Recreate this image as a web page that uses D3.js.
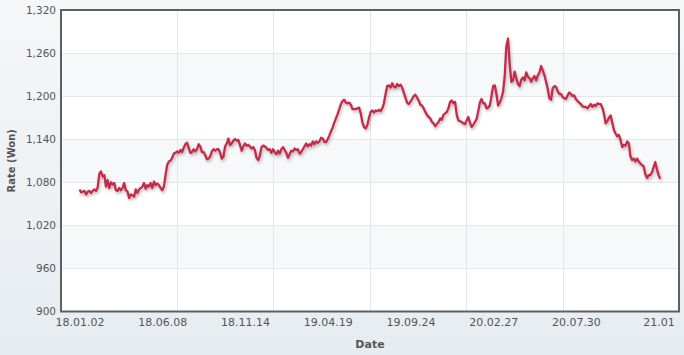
<!DOCTYPE html>
<html>
<head>
<meta charset="utf-8">
<script src="https://cdn.jsdelivr.net/npm/d3@7"></script>
<style>
  html, body { margin: 0; padding: 0; }
  body { width: 684px; height: 355px; overflow: hidden; }
  text { font-family: "DejaVu Sans", Verdana, sans-serif; }
</style>
</head>
<body>
<svg id="chart" width="684" height="355"></svg>
<script>
// ---- data ----
const xTickLabels = ["18.01.02","18.06.08","18.11.14","19.04.19","19.09.24","20.02.27","20.07.30","21.01"];
const xTickIdx = [0, 50, 100, 150, 200, 250, 300, 350];
const xGridIdx = [58.7, 117.1, 175.7, 233.7, 292.4];
const yTicks = [900, 960, 1020, 1080, 1140, 1200, 1260, 1320];
const rate = [
1070,1066,1067,1068,1063,1067,1068,1065,1068,1070,
1068,1073,1092,1095,1088,1090,1074,1083,1072,1080,
1077,1079,1069,1068,1072,1069,1072,1079,1069,1067,
1058,1063,1062,1060,1070,1065,1070,1072,1074,1079,
1071,1076,1074,1079,1072,1081,1076,1078,1076,1072,
1069,1074,1090,1104,1109,1110,1114,1120,1121,1123,
1121,1125,1122,1128,1133,1135,1128,1121,1122,1126,
1123,1126,1133,1130,1122,1122,1118,1112,1113,1116,
1123,1126,1124,1126,1126,1121,1113,1116,1130,1134,
1141,1132,1134,1138,1140,1138,1139,1132,1124,1130,
1134,1131,1132,1130,1127,1129,1125,1114,1111,1117,
1129,1131,1130,1128,1125,1126,1121,1126,1122,1119,
1124,1120,1126,1129,1125,1121,1114,1119,1124,1123,
1127,1125,1126,1120,1122,1126,1130,1134,1130,1133,
1131,1137,1133,1137,1135,1137,1142,1141,1136,1136,
1140,1145,1151,1156,1163,1169,1175,1182,1189,1193,
1195,1191,1190,1191,1188,1182,1182,1182,1183,1184,
1176,1163,1157,1155,1160,1170,1178,1180,1177,1180,
1179,1181,1179,1183,1190,1203,1214,1215,1212,1218,
1213,1212,1217,1214,1216,1212,1205,1198,1191,1189,
1192,1196,1200,1202,1198,1194,1188,1187,1183,1178,
1174,1171,1169,1164,1162,1158,1161,1164,1169,1167,
1174,1176,1178,1183,1192,1194,1190,1192,1174,1166,
1165,1164,1162,1161,1166,1171,1163,1157,1160,1164,
1168,1179,1191,1196,1190,1190,1183,1184,1187,1200,
1214,1215,1203,1187,1191,1197,1206,1228,1270,1280,
1245,1220,1222,1234,1225,1217,1214,1223,1226,1222,
1233,1227,1225,1220,1225,1228,1222,1229,1233,1242,
1236,1229,1220,1210,1197,1195,1211,1214,1213,1207,
1203,1203,1199,1197,1196,1201,1205,1203,1200,1201,
1196,1193,1191,1189,1186,1185,1185,1183,1186,1189,
1185,1188,1186,1190,1189,1189,1184,1175,1162,1165,
1170,1173,1163,1153,1148,1144,1146,1139,1129,1132,
1131,1137,1134,1116,1111,1113,1109,1113,1109,1106,
1104,1102,1091,1086,1090,1090,1094,1101,1108,1098,
1090,1085
];
const yTitle = "Rate (Won)";
const xTitle = "Date";

// ---- layout ----
const W = 684, H = 355;
const plot = { left: 61, right: 679, top: 10, bottom: 311.5 };
const svg = d3.select("#chart");

const defs = svg.append("defs");
const bg = defs.append("linearGradient").attr("id", "bg").attr("x1", 0).attr("y1", 0).attr("x2", 0).attr("y2", 1);
bg.append("stop").attr("offset", "0%").attr("stop-color", "#f5f7f9");
bg.append("stop").attr("offset", "100%").attr("stop-color", "#e7ecf0");
const sh = defs.append("filter").attr("id", "shadow").attr("x", "-5%").attr("y", "-10%").attr("width", "110%").attr("height", "130%");
sh.append("feDropShadow").attr("dx", 1).attr("dy", 2).attr("stdDeviation", 1.5)
  .attr("flood-color", "#000").attr("flood-opacity", 0.28);

svg.append("rect").attr("width", W).attr("height", H).attr("fill", "url(#bg)");

const x = d3.scaleLinear().domain([0, 350]).range([79.5, 658.6]);
const y = d3.scaleLinear().domain([900, 1320]).range([plot.bottom, plot.top]);

// plot background
svg.append("rect").attr("x", plot.left).attr("y", plot.top)
  .attr("width", plot.right - plot.left).attr("height", plot.bottom - plot.top).attr("fill", "#ffffff");

// alternating bands
const bands = d3.pairs(yTicks).filter((d, i) => i % 2 === 1);
svg.append("g").selectAll("rect").data(bands).join("rect")
  .attr("x", plot.left).attr("width", plot.right - plot.left)
  .attr("y", d => y(d[1])).attr("height", d => y(d[0]) - y(d[1]))
  .attr("fill", "#f6f8fa");

// grid
const grid = svg.append("g").attr("stroke", "#e3e6ea").attr("stroke-width", 1);
grid.selectAll(".h").data(yTicks.slice(1, -1)).join("line")
  .attr("x1", plot.left).attr("x2", plot.right)
  .attr("y1", d => Math.round(y(d)) + 0.5).attr("y2", d => Math.round(y(d)) + 0.5);
grid.selectAll(".v").data(xGridIdx).join("line")
  .attr("y1", plot.top).attr("y2", plot.bottom)
  .attr("x1", d => Math.round(x(d)) + 0.5).attr("x2", d => Math.round(x(d)) + 0.5);

// line
const line = d3.line().x((d, i) => x(i)).y(d => y(d)).curve(d3.curveLinear);
svg.append("path").datum(rate)
  .attr("d", line).attr("fill", "none")
  .attr("stroke", "#c52c48").attr("stroke-width", 2.3)
  .attr("stroke-linejoin", "round").attr("filter", "url(#shadow)");

// frame
svg.append("rect").attr("x", plot.left).attr("y", plot.top)
  .attr("width", plot.right - plot.left).attr("height", plot.bottom - plot.top)
  .attr("fill", "none").attr("stroke", "#5d5f62").attr("stroke-width", 2);

// y axis labels
const yAxis = d3.axisLeft(y).tickValues(yTicks).tickSize(0).tickPadding(5)
  .tickFormat(d3.format(","));
const gy = svg.append("g").attr("transform", `translate(${plot.left},0)`).call(yAxis);
gy.select(".domain").remove();
gy.selectAll("text").attr("font-size", 10.5).attr("fill", "#555")
  .attr("font-family", "DejaVu Sans, Verdana, sans-serif");

// x axis labels
const xAxis = d3.axisBottom(x).tickValues(xTickIdx).tickSize(0).tickPadding(7)
  .tickFormat((d, i) => xTickLabels[i]);
const gx = svg.append("g").attr("transform", `translate(0,${plot.bottom})`).call(xAxis);
gx.select(".domain").remove();
gx.selectAll("text").attr("font-size", 11).attr("fill", "#555")
  .attr("font-family", "DejaVu Sans, Verdana, sans-serif");

// titles
svg.append("text").attr("x", 370).attr("y", 348).attr("text-anchor", "middle")
  .attr("font-size", 11).attr("font-weight", "bold").attr("fill", "#555").text(xTitle);
svg.append("text").attr("transform", `translate(15,${(plot.top + plot.bottom) / 2}) rotate(-90)`)
  .attr("text-anchor", "middle").attr("font-size", 10).attr("font-weight", "bold")
  .attr("fill", "#555").text(yTitle);
</script>
</body>
</html>
